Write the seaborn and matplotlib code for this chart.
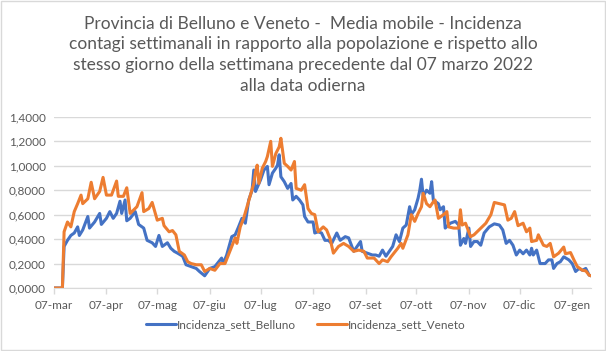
import pandas as pd
import seaborn as sns
import matplotlib.pyplot as plt
from matplotlib.ticker import FuncFormatter, MultipleLocator

# days counted from 07 March 2022
START = '2022-03-07'

belluno_days = [0, 5, 6, 8, 10, 12, 14, 15, 17, 20, 21, 24, 27, 28, 31, 33, 35, 37, 39, 40,
                42, 43, 45, 48, 50, 53, 55, 58, 60, 62, 64, 67, 69, 71, 73, 76, 78, 81, 84, 86,
                89, 92, 95, 99, 100, 102, 105, 107, 109, 111, 113, 115, 117, 118, 119, 122, 124, 126, 127, 129,
                131, 132, 133, 134, 136, 138, 140, 141, 143, 145, 147, 148, 150, 153, 154, 156, 158, 160, 162, 164,
                167, 169, 172, 174, 177, 179, 181, 182, 185, 188, 190, 192, 194, 196, 198, 200, 202, 204, 206, 208,
                210, 211, 213, 215, 216, 217, 218, 220, 222, 223, 224, 227, 228, 230, 231, 234, 237, 239, 240, 242,
                243, 245, 246, 248, 250, 252, 254, 257, 260, 263, 265, 267, 269, 271, 273, 275, 277, 279, 281, 282,
                283, 285, 287, 290, 292, 294, 295, 297, 299, 301, 304, 306, 308, 310, 312, 314, 316, 317]
belluno_vals = [0, 0, 0.34, 0.39, 0.43, 0.45, 0.50, 0.43, 0.475, 0.585, 0.49, 0.54, 0.61, 0.52, 0.57, 0.625, 0.57, 0.61, 0.71, 0.61,
                0.72, 0.55, 0.57, 0.625, 0.52, 0.49, 0.39, 0.37, 0.34, 0.43, 0.34, 0.37, 0.325, 0.30, 0.285, 0.26, 0.19, 0.175, 0.16, 0.134,
                0.10, 0.16, 0.175, 0.245, 0.20, 0.27, 0.42, 0.435, 0.50, 0.57, 0.53, 0.72, 0.80, 0.965, 0.79, 0.885, 0.965, 0.995, 0.845, 0.94,
                0.98, 1.005, 1.09, 0.91, 0.87, 0.815, 0.855, 0.72, 0.75, 0.72, 0.68, 0.585, 0.54, 0.54, 0.45, 0.46, 0.45, 0.39, 0.39, 0.365,
                0.45, 0.39, 0.42, 0.41, 0.30, 0.34, 0.38, 0.30, 0.285, 0.27, 0.27, 0.26, 0.31, 0.26, 0.30, 0.34, 0.435, 0.38, 0.49, 0.515,
                0.665, 0.60, 0.64, 0.735, 0.80, 0.89, 0.75, 0.80, 0.775, 0.87, 0.72, 0.69, 0.64, 0.665, 0.49, 0.53, 0.545, 0.515, 0.35, 0.405,
                0.365, 0.49, 0.34, 0.38, 0.38, 0.35, 0.45, 0.50, 0.525, 0.515, 0.475, 0.365, 0.39, 0.35, 0.27, 0.31, 0.28, 0.31, 0.27, 0.325,
                0.27, 0.31, 0.20, 0.20, 0.23, 0.23, 0.16, 0.20, 0.215, 0.255, 0.23, 0.20, 0.135, 0.16, 0.145, 0.16, 0.105, 0.10]

veneto_days = [0, 5, 6, 8, 10, 12, 14, 16, 17, 20, 22, 24, 27, 29, 31, 34, 37, 38, 41, 43,
               45, 49, 52, 53, 56, 58, 61, 64, 65, 68, 70, 72, 74, 77, 79, 81, 84, 87, 89, 92,
               95, 98, 101, 103, 105, 107, 108, 110, 112, 114, 116, 118, 119, 120, 121, 123, 125, 126, 128, 129,
               131, 133, 134, 136, 138, 140, 142, 143, 146, 148, 150, 152, 154, 156, 159, 161, 163, 165, 168, 171,
               174, 177, 180, 183, 185, 189, 192, 194, 197, 199, 203, 205, 206, 209, 211, 213, 215, 217, 218, 220,
               222, 224, 225, 227, 230, 232, 233, 236, 239, 240, 241, 243, 246, 248, 252, 255, 258, 260, 263, 266,
               268, 270, 272, 274, 277, 279, 281, 282, 285, 286, 289, 291, 293, 295, 298, 301, 302, 305, 307, 309,
               312, 314, 316, 317]
veneto_vals = [0, 0, 0.46, 0.54, 0.50, 0.625, 0.69, 0.76, 0.69, 0.73, 0.865, 0.73, 0.79, 0.905, 0.76, 0.76, 0.875, 0.75, 0.75, 0.82,
               0.61, 0.665, 0.78, 0.625, 0.65, 0.70, 0.555, 0.57, 0.51, 0.46, 0.47, 0.435, 0.30, 0.27, 0.215, 0.20, 0.19, 0.19, 0.135, 0.16,
               0.145, 0.20, 0.20, 0.27, 0.34, 0.41, 0.365, 0.50, 0.57, 0.665, 0.76, 0.855, 0.95, 1.005, 0.855, 0.98, 1.035, 1.075, 1.20, 0.995,
               1.10, 1.155, 1.225, 1.02, 0.995, 0.965, 1.035, 0.815, 0.80, 0.845, 0.65, 0.61, 0.60, 0.46, 0.50, 0.475, 0.405, 0.285, 0.34, 0.365,
               0.34, 0.30, 0.31, 0.30, 0.245, 0.245, 0.20, 0.23, 0.215, 0.255, 0.325, 0.365, 0.325, 0.435, 0.60, 0.545, 0.61, 0.665, 0.775, 0.69,
               0.665, 0.705, 0.72, 0.57, 0.60, 0.625, 0.50, 0.49, 0.49, 0.64, 0.515, 0.53, 0.42, 0.435, 0.49, 0.53, 0.60, 0.70, 0.69, 0.68,
               0.555, 0.57, 0.625, 0.51, 0.53, 0.46, 0.49, 0.38, 0.39, 0.435, 0.35, 0.34, 0.365, 0.255, 0.285, 0.335, 0.28, 0.29, 0.23, 0.175,
               0.145, 0.14, 0.105, 0.10]

tick_dates = ['2022-03-07', '2022-04-07', '2022-05-07', '2022-06-07', '2022-07-07', '2022-08-07',
              '2022-09-07', '2022-10-07', '2022-11-07', '2022-12-07', '2023-01-07']
tick_labels = ['07-mar', '07-apr', '07-mag', '07-giu', '07-lug', '07-ago',
               '07-set', '07-ott', '07-nov', '07-dic', '07-gen']

title = ('Provincia di Belluno e Veneto -  Media mobile - Incidenza\n'
         'contagi settimanali in rapporto alla popolazione e rispetto allo\n'
         'stesso giorno della settimana precedente dal 07 marzo 2022\n'
         'alla data odierna')


def to_frame(days, vals, name):
    dates = pd.Timestamp(START) + pd.to_timedelta(days, unit='D')
    return pd.DataFrame({'date': dates, 'value': vals, 'serie': name})


def main():
    sns.set_style('white')
    plt.rcParams['font.family'] = ['Lato', 'DejaVu Sans']
    grey = '#595959'

    belluno = to_frame(belluno_days, belluno_vals, 'Incidenza_sett_Belluno')
    veneto = to_frame(veneto_days, veneto_vals, 'Incidenza_sett_Veneto')

    fig = plt.figure(figsize=(6.06, 3.51), dpi=100)
    ax = fig.add_axes([0.089, 0.1795, 0.886, 0.4875])

    sns.lineplot(data=belluno, x='date', y='value', color='#4472C4', linewidth=2.2,
                 label='Incidenza_sett_Belluno', ax=ax)
    sns.lineplot(data=veneto, x='date', y='value', color='#ED7D31', linewidth=2.2,
                 label='Incidenza_sett_Veneto', ax=ax)

    ax.set_xlim(pd.Timestamp(START), pd.Timestamp(START) + pd.Timedelta(days=317))
    ax.set_ylim(0, 1.4)
    ax.yaxis.set_major_locator(MultipleLocator(0.2))
    ax.yaxis.set_major_formatter(FuncFormatter(lambda v, p: f'{v:.4f}'.replace('.', ',')))
    ax.set_xticks(pd.to_datetime(tick_dates))
    ax.set_xticklabels(tick_labels)
    ax.grid(axis='y', color='#D9D9D9', linewidth=1)
    ax.set_axisbelow(True)
    for s in ['top', 'right', 'left']:
        ax.spines[s].set_visible(False)
    ax.spines['bottom'].set_color('#D9D9D9')
    ax.tick_params(axis='x', colors=grey, labelsize=8.5, length=4, width=1, color='#D9D9D9',
                   direction='out', bottom=True, pad=5)
    ax.tick_params(axis='y', colors=grey, labelsize=8.5, length=0, pad=6)
    ax.set_xlabel('')
    ax.set_ylabel('')

    ax.get_legend().remove()
    handles, labels = ax.get_legend_handles_labels()
    fig.legend(handles, labels, loc='center', bbox_to_anchor=(0.505, 0.075), ncol=2,
               frameon=False, fontsize=8.5, handlelength=2.5, handletextpad=0.1,
               columnspacing=1.8, labelcolor=grey)

    fig.text(0.5, 0.955, title, ha='center', va='top', fontsize=12.5, color=grey,
             linespacing=1.36)

    fig.patches.append(plt.Rectangle((0.001, 0.002), 0.997, 0.995, transform=fig.transFigure,
                                     fill=False, edgecolor='#D9D9D9', linewidth=1))
    fig.savefig('out.png', dpi=100, facecolor='white')


if __name__ == '__main__':
    main()
